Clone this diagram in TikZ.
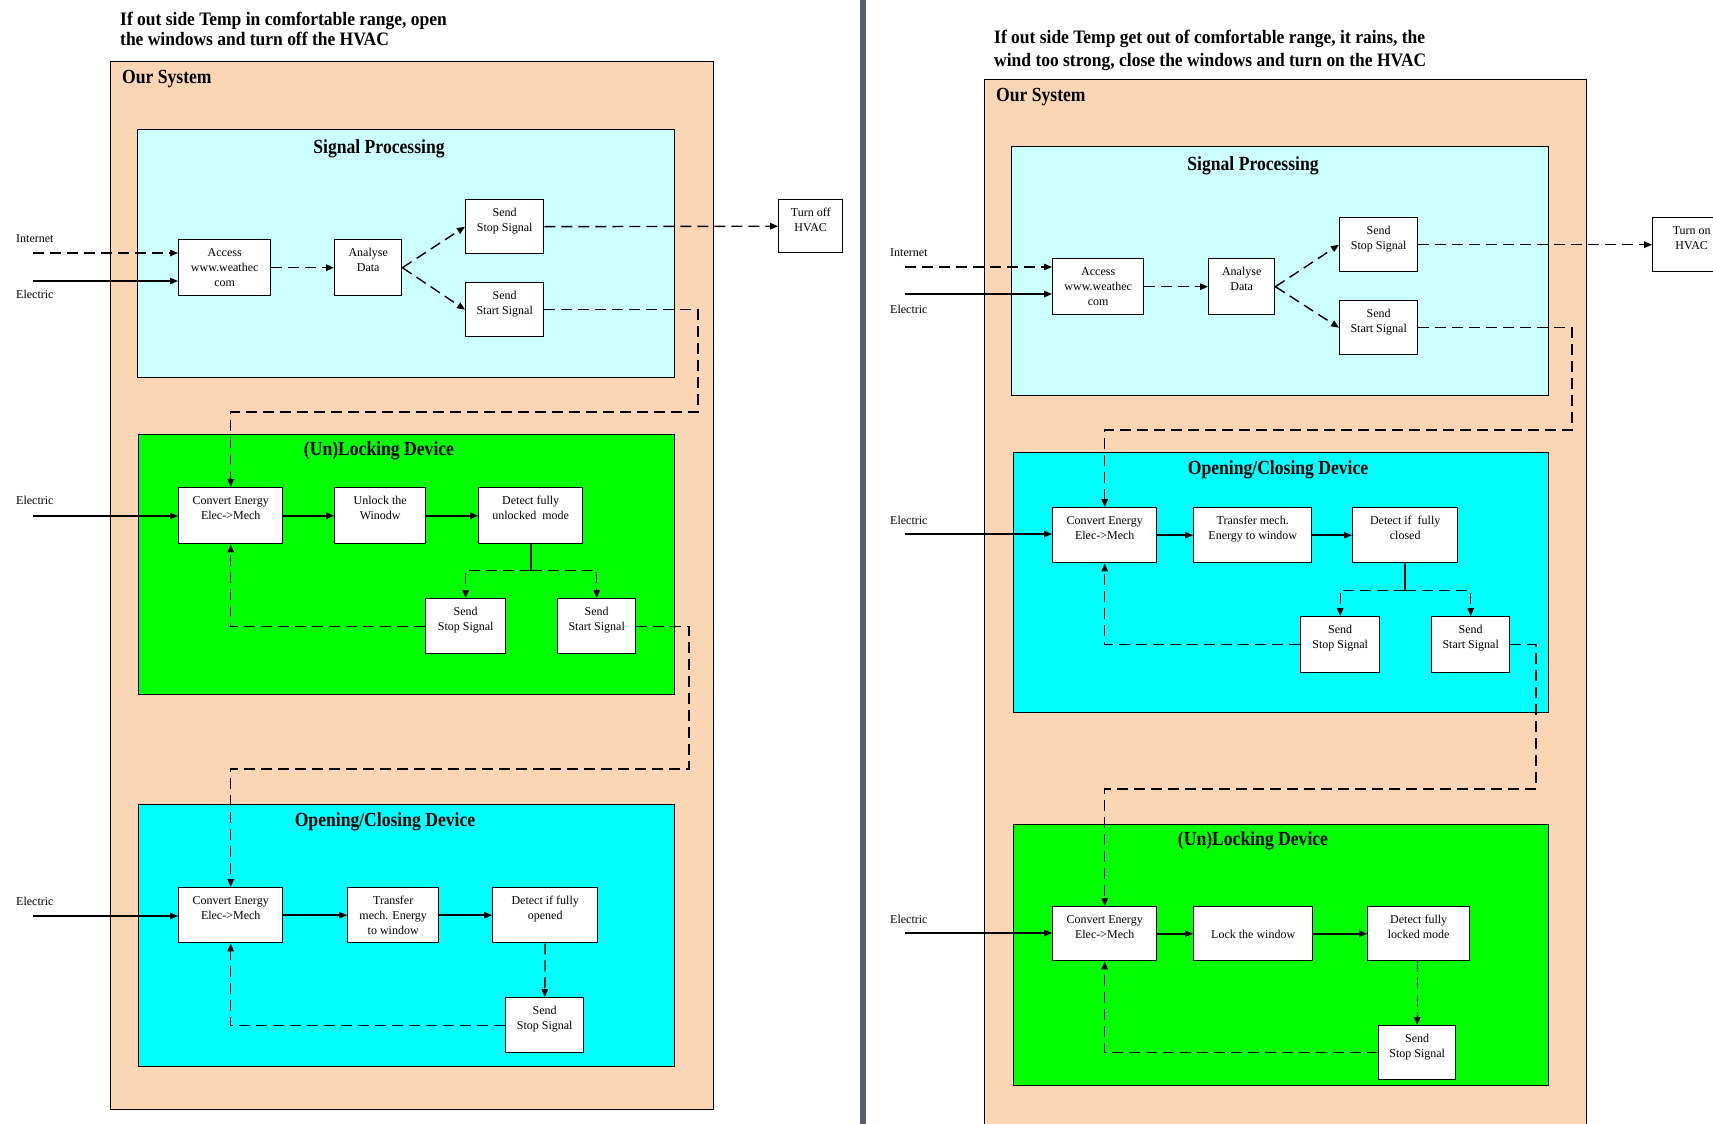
\documentclass[tikz,border=0pt]{standalone}
\usepackage{fontspec}
\setmainfont{Liberation Serif}
\newfontfamily\ttlfont[FakeStretch=0.88]{Liberation Serif}
\newfontfamily\toptlfont[FakeStretch=0.92]{Liberation Serif}
\usetikzlibrary{arrows.meta,calc}
\definecolor{peach}{RGB}{251,214,181}
\definecolor{lcyan}{RGB}{204,255,255}
\definecolor{lgreen}{RGB}{0,255,0}
\definecolor{acyan}{RGB}{0,255,255}
\definecolor{sepbar}{RGB}{84,94,110}
\newcommand\bxt[3]{\parbox[c][#2pt][t]{#1pt}{\centering\vspace*{6pt}\strut #3\par}}
\begin{document}
\begin{tikzpicture}[x=1pt,y=-1pt,
  bx/.style={draw=black, fill=white, line width=1.4pt, inner sep=0pt, anchor=north west, font=\fontsize{12}{15}\selectfont},
  cont/.style={draw=black, line width=1.2pt, anchor=north west, inner sep=0pt},
  ttl/.style={font=\ttlfont\bfseries\fontsize{20}{23}\selectfont, inner sep=0pt},
  toptl/.style={font=\toptlfont\bfseries\fontsize{19}{#1}\selectfont, align=left, anchor=north west, inner sep=0pt},
  lbl/.style={font=\fontsize{12}{14}\selectfont, anchor=west, inner sep=0pt},
  dsh/.style={line width=1.4pt, dash pattern=on 11pt off 6pt},
  sol/.style={line width=1.6pt},
  arr/.style={-{Triangle[length=8pt,width=6.5pt]}}]
\useasboundingbox (0,0) rectangle (1713,1124);
\clip (0,0) rectangle (1713,1124);
\fill[white] (0,0) rectangle (1713,1124);
\fill[sepbar] (860,0) rectangle (866,1124);

% ================= LEFT PANEL =================
\node[toptl=19.6] (tL) at (120,12) {If out side Temp in comfortable range, open\\the windows and turn off the HVAC};
\node[cont, fill=peach, minimum width=603pt, minimum height=1048pt] (ourL) at (110,61) {};
\node[ttl, anchor=west] (ourLt) at (122,79) {Our System};

% Signal processing
\node[cont, fill=lcyan, minimum width=537pt, minimum height=248pt] (spL) at (137,129) {};
\node[ttl] (spLt) at (379,149) {Signal Processing};
\node[bx] (accL) at (178,239) {\bxt{92}{56}{Access\\www.weathec\\com}};
\node[bx] (anaL) at (334,239) {\bxt{67}{56}{Analyse\\Data}};
\node[bx] (stopL) at (465,199) {\bxt{78}{54}{Send\\Stop Signal}};
\node[bx] (startL) at (465,282) {\bxt{78}{54}{Send\\Start Signal}};
\node[bx] (hvacL) at (778,199) {\bxt{64}{53}{Turn off\\HVAC}};
\node[lbl] (inLt) at (16,239) {Internet};
\node[lbl] (elL1t) at (16,294) {Electric};
\coordinate (inL) at (33,253);
\coordinate (elL1) at (33,281);

% (Un)Locking
\node[cont, fill=lgreen, minimum width=536pt, minimum height=260pt] (lkL) at (138,434) {};
\node[ttl] (lkLt) at (379,451) {(Un)Locking Device};
\node[bx] (cvL1) at (178,487) {\bxt{104}{56}{Convert Energy\\Elec->Mech}};
\node[bx] (unlL) at (334,487) {\bxt{91}{56}{Unlock the\\Winodw}};
\node[bx] (detL1) at (478,487) {\bxt{104}{56}{Detect fully\\unlocked\ \ mode}};
\node[bx] (sstopL1) at (425,598) {\bxt{80}{55}{Send\\Stop Signal}};
\node[bx] (sstartL1) at (557,598) {\bxt{78}{55}{Send\\Start Signal}};
\node[lbl] (elL2t) at (16,500) {Electric};
\coordinate (elL2) at (33,516);
\coordinate (brL) at ($(detL1.south)+(0,26)$);

% Opening/Closing
\node[cont, fill=acyan, minimum width=536pt, minimum height=262pt] (ocL) at (138,804) {};
\node[ttl] (ocLt) at (385,822) {Opening/Closing Device};
\node[bx] (cvL2) at (178,887) {\bxt{104}{55}{Convert Energy\\Elec->Mech}};
\node[bx] (trL) at (347,887) {\bxt{91}{55}{Transfer\\mech. Energy\\to window}};
\node[bx] (detL2) at (492,887) {\bxt{105}{55}{Detect if fully\\opened}};
\node[bx] (sstopL2) at (505,997) {\bxt{78}{55}{Send\\Stop Signal}};
\node[lbl] (elL3t) at (16,901) {Electric};
\coordinate (elL3) at (33,916);

% connectors left
\draw[dsh,arr] (inL) -- (inL -| accL.west);
\draw[sol,arr] (elL1) -- (elL1 -| accL.west);
\draw[dsh,arr] (accL.east) -- (anaL.west);
\draw[dsh,arr] (anaL.east) -- (stopL.west);
\draw[dsh,arr] (anaL.east) -- (startL.west);
\draw[dsh,arr] (stopL.east) -- (hvacL.west);
\draw[dsh,arr] (startL.east) -| (698,412) -| (cvL1.north);

\draw[sol,arr] (elL2) -- (elL2 -| cvL1.west);
\draw[sol,arr] (cvL1.east) -- (unlL.west);
\draw[sol,arr] (unlL.east) -- (detL1.west);
\draw[sol] (detL1.south) -- (brL);
\draw[dsh,arr] (brL) -| (sstopL1.north);
\draw[dsh,arr] (brL) -| (sstartL1.north);
\draw[dsh,arr] (sstopL1.west) -| (cvL1.south);
\draw[dsh,arr] (sstartL1.east) -| (689,769) -| (cvL2.north);

\draw[sol,arr] (elL3) -- (elL3 -| cvL2.west);
\draw[sol,arr] (cvL2.east) -- (trL.west);
\draw[sol,arr] (trL.east) -- (detL2.west);
\draw[dsh,arr] (detL2.south) -- (sstopL2.north);
\draw[dsh,arr] (sstopL2.west) -| (cvL2.south);

% ================= RIGHT PANEL =================
\node[toptl=23] (tR) at (994,30) {If out side Temp get out of comfortable range, it rains, the\\wind too strong, close the windows and turn on the HVAC};
\node[cont, fill=peach, minimum width=602pt, minimum height=1070pt] (ourR) at (984,79) {};
\node[ttl, anchor=west] (ourRt) at (996,97) {Our System};

% Signal processing
\node[cont, fill=lcyan, minimum width=537pt, minimum height=249pt] (spR) at (1011,146) {};
\node[ttl] (spRt) at (1253,166) {Signal Processing};
\node[bx] (accR) at (1052,258) {\bxt{91}{56}{Access\\www.weathec\\com}};
\node[bx] (anaR) at (1208,258) {\bxt{66}{56}{Analyse\\Data}};
\node[bx] (stopR) at (1339,217) {\bxt{78}{54}{Send\\Stop Signal}};
\node[bx] (startR) at (1339,300) {\bxt{78}{54}{Send\\Start Signal}};
\node[bx] (hvacR) at (1652,217) {\bxt{78}{54}{Turn on\\HVAC}};
\node[lbl] (inRt) at (890,253) {Internet};
\node[lbl] (elR1t) at (890,309) {Electric};
\coordinate (inR) at (905,267);
\coordinate (elR1) at (905,294);

% Opening/Closing
\node[cont, fill=acyan, minimum width=535pt, minimum height=260pt] (ocR) at (1013,452) {};
\node[ttl] (ocRt) at (1278,470) {Opening/Closing Device};
\node[bx] (cvR1) at (1052,507) {\bxt{104}{55}{Convert Energy\\Elec->Mech}};
\node[bx] (trR) at (1193,507) {\bxt{118}{55}{Transfer mech.\\Energy to window}};
\node[bx] (detR1) at (1352,507) {\bxt{105}{55}{Detect if\ \ fully\\closed}};
\node[bx] (sstopR1) at (1300,616) {\bxt{79}{56}{Send\\Stop Signal}};
\node[bx] (sstartR1) at (1431,616) {\bxt{78}{56}{Send\\Start Signal}};
\node[lbl] (elR2t) at (890,520) {Electric};
\coordinate (elR2) at (905,534);
\coordinate (brR) at ($(detR1.south)+(0,27)$);

% (Un)Locking
\node[cont, fill=lgreen, minimum width=535pt, minimum height=261pt] (lkR) at (1013,824) {};
\node[ttl] (lkRt) at (1253,841) {(Un)Locking Device};
\node[bx] (cvR2) at (1052,906) {\bxt{104}{54}{Convert Energy\\Elec->Mech}};
\node[bx] (lockR) at (1193,906) {\bxt{119}{54}{\\Lock the window}};
\node[bx] (detR2) at (1367,906) {\bxt{102}{54}{Detect fully\\locked mode}};
\node[bx] (sstopR2) at (1378,1025) {\bxt{77}{54}{Send\\Stop Signal}};
\node[lbl] (elR3t) at (890,919) {Electric};
\coordinate (elR3) at (905,933);

% connectors right
\draw[dsh,arr] (inR) -- (inR -| accR.west);
\draw[sol,arr] (elR1) -- (elR1 -| accR.west);
\draw[dsh,arr] (accR.east) -- (anaR.west);
\draw[dsh,arr] (anaR.east) -- (stopR.west);
\draw[dsh,arr] (anaR.east) -- (startR.west);
\draw[dsh,arr] (stopR.east) -- (hvacR.west);
\draw[dsh,arr] (startR.east) -| (1572,430) -| (cvR1.north);

\draw[sol,arr] (elR2) -- (elR2 -| cvR1.west);
\draw[sol,arr] (cvR1.east) -- (trR.west);
\draw[sol,arr] (trR.east) -- (detR1.west);
\draw[sol] (detR1.south) -- (brR);
\draw[dsh,arr] (brR) -| (sstopR1.north);
\draw[dsh,arr] (brR) -| (sstartR1.north);
\draw[dsh,arr] (sstopR1.west) -| (cvR1.south);
\draw[dsh,arr] (sstartR1.east) -| (1536,789) -| (cvR2.north);

\draw[sol,arr] (elR3) -- (elR3 -| cvR2.west);
\draw[sol,arr] (cvR2.east) -- (lockR.west);
\draw[sol,arr] (lockR.east) -- (detR2.west);
\draw[dsh,arr] (sstopR2.north |- detR2.south) -- (sstopR2.north);
\draw[dsh,arr] (sstopR2.west) -| (cvR2.south);
\end{tikzpicture}
\end{document}
